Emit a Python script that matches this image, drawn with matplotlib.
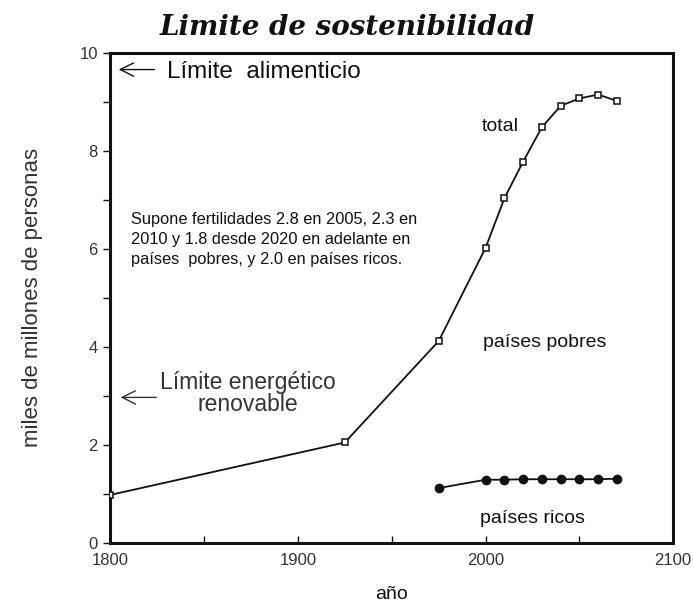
import matplotlib

matplotlib.use("Agg")
import matplotlib.pyplot as plt  # noqa: E402
from matplotlib.ticker import MultipleLocator  # noqa: E402

# datos (miles de millones de personas)
anios_total = [1800, 1925, 1975, 2000, 2010, 2020, 2030, 2040, 2050, 2060, 2070]
total = [0.98, 2.05, 4.12, 6.02, 7.03, 7.78, 8.48, 8.92, 9.07, 9.15, 9.02]

anios_ricos = [1975, 2000, 2010, 2020, 2030, 2040, 2050, 2060, 2070]
ricos = [1.12, 1.29, 1.29, 1.30, 1.30, 1.30, 1.30, 1.30, 1.31]

x_ticks = [1800, 1900, 2000, 2100]
y_ticks = [0, 2, 4, 6, 8, 10]

INK = "#111111"
GREY = "#333333"
plt.rcParams.update({"font.family": ["Liberation Sans", "DejaVu Sans"]})

fig = plt.figure(figsize=(6.94, 6.08), dpi=100)
ax = fig.add_axes([0.159, 0.107, 0.811, 0.806])

ax.plot(anios_total, total, color=INK, lw=1.3, marker="s", markersize=4.5,
        markerfacecolor="white", markeredgecolor=INK, markeredgewidth=1.1, zorder=3)
ax.plot(anios_ricos, ricos, color=INK, lw=1.3, marker="o", markersize=6,
        markerfacecolor=INK, markeredgecolor=INK, zorder=3)

ax.set_xlim(1800, 2100)
ax.set_ylim(0, 10)
ax.set_xticks(x_ticks)
ax.set_yticks(y_ticks)
ax.xaxis.set_minor_locator(MultipleLocator(50))
ax.yaxis.set_minor_locator(MultipleLocator(1))
ax.tick_params(axis="x", which="both", direction="in", length=5, width=1.0,
               labelsize=12, pad=7, colors=INK, labelcolor=GREY)
ax.tick_params(axis="y", which="both", direction="out", length=5, width=1.0,
               labelsize=12, pad=4, colors=INK, labelcolor=GREY)
for s in ax.spines.values():
    s.set_linewidth(2.2)
    s.set_color(INK)

ax.set_xlabel("año", fontsize=14, color=INK, labelpad=13)
ax.set_ylabel("miles de millones de personas", fontsize=16, color=GREY, labelpad=26)

# titulo
fig.text(0.5, 0.955, "Limite de sostenibilidad", ha="center", va="center",
         fontsize=20, fontweight="bold", fontstyle="italic",
         family=["DejaVu Serif"], color=INK)

# limites con flechas
ax.annotate("", xy=(1803, 9.66), xytext=(1825, 9.66),
            arrowprops=dict(arrowstyle="->", color=INK, lw=1.0, mutation_scale=24))
ax.text(1830, 9.62, "Límite  alimenticio", ha="left", va="center",
        fontsize=17.5, color=INK)
ax.annotate("", xy=(1804, 2.97), xytext=(1826, 2.97),
            arrowprops=dict(arrowstyle="->", color=GREY, lw=1.0, mutation_scale=24))
ax.text(1873.5, 3.05, "Límite energético\nrenovable", ha="center", va="center",
        fontsize=16.5, color=GREY, linespacing=0.95)

# notas
ax.text(1811, 6.2,
        "Supone fertilidades 2.8 en 2005, 2.3 en\n"
        "2010 y 1.8 desde 2020 en adelante en\n"
        "países  pobres, y 2.0 en países ricos.",
        ha="left", va="center", fontsize=11.8, color=INK, linespacing=1.42)

ax.text(2008, 8.5, "total", ha="center", va="center", fontsize=14, color=INK)
ax.text(2031.5, 4.1, "países pobres", ha="center", va="center", fontsize=14, color=INK)
ax.text(2024.8, 0.49, "países ricos", ha="center", va="center", fontsize=14, color=INK)

fig.savefig("out.png", dpi=100, facecolor="white")
